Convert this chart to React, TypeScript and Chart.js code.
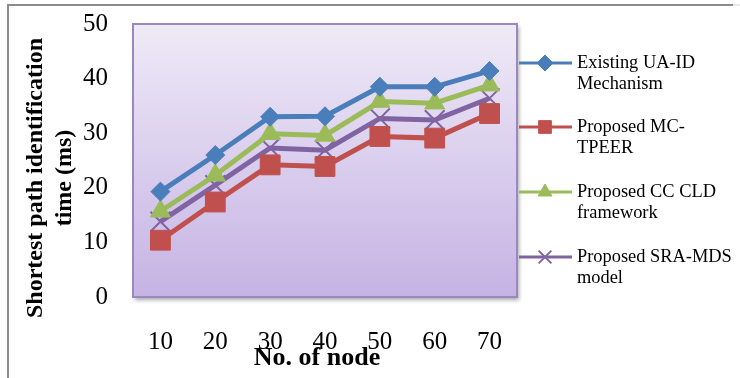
import React, { useEffect, useRef } from "react";
import { Chart, registerables } from "chart.js";
import { drawPoint } from "chart.js/helpers";

Chart.register(...registerables);

const nodeCounts = ["10", "20", "30", "40", "50", "60", "70"];

const existingUaId = [19.3, 26.0, 33.0, 33.1, 38.5, 38.5, 41.4];
const proposedMcTpeer = [10.4, 17.4, 24.2, 23.9, 29.4, 29.1, 33.6];
const proposedCcCld = [15.7, 22.3, 29.9, 29.6, 35.8, 35.5, 38.8];
const proposedSraMds = [13.8, 20.5, 27.3, 26.9, 32.7, 32.4, 36.4];

const seriesNames = [
  ["Existing UA-ID", "Mechanism"],
  ["Proposed MC-", "TPEER"],
  ["Proposed CC CLD", "framework"],
  ["Proposed SRA-MDS", "model"],
];

const yTicks = [0, 10, 20, 30, 40, 50];

const xTitle = "No. of node";
const yTitle = ["Shortest path identification", "time (ms)"];

const SERIF = "'Liberation Serif', 'Times New Roman', serif";

const legendMarkerRadius = [8, 9, 8, 9];

const decorPlugin = {
  id: "decor",
  beforeDraw(chart: any) {
    const { ctx, chartArea } = chart;
    const { left, top, right, bottom } = chartArea;
    ctx.save();
    ctx.fillStyle = "#ffffff";
    ctx.fillRect(0, 0, chart.width, chart.height);

    // outer frame
    ctx.strokeStyle = "#8c8c8c";
    ctx.lineWidth = 2;
    ctx.beginPath();
    ctx.moveTo(8, chart.height + 2);
    ctx.lineTo(8, 5);
    ctx.lineTo(733, 5);
    ctx.stroke();
    ctx.strokeStyle = "#d0d0d0";
    ctx.lineWidth = 1;
    ctx.beginPath();
    ctx.moveTo(733, 5);
    ctx.lineTo(740, 5);
    ctx.stroke();

    // plot area with shadow and gradient
    ctx.shadowColor = "rgba(0,0,0,0.35)";
    ctx.shadowBlur = 4;
    ctx.shadowOffsetX = 2;
    ctx.shadowOffsetY = 3;
    const grad = ctx.createLinearGradient(0, top, 0, bottom);
    grad.addColorStop(0, "#efeaf7");
    grad.addColorStop(1, "#c5b3e4");
    ctx.fillStyle = grad;
    ctx.fillRect(left, top, right - left, bottom - top);
    ctx.shadowColor = "transparent";
    ctx.strokeStyle = "#9a88c2";
    ctx.lineWidth = 2;
    ctx.strokeRect(left, top, right - left, bottom - top);
    ctx.restore();
  },
  afterDraw(chart: any) {
    const { ctx, chartArea } = chart;
    ctx.save();
    ctx.fillStyle = "#000000";

    // axis titles
    ctx.font = `bold 26px ${SERIF}`;
    ctx.textAlign = "center";
    ctx.textBaseline = "middle";
    ctx.fillText(xTitle, 317, 358);

    ctx.save();
    ctx.translate(36, 178);
    ctx.rotate(-Math.PI / 2);
    ctx.font = `bold 24px ${SERIF}`;
    ctx.fillText(yTitle[0], 0, 0);
    ctx.fillText(yTitle[1], 0, 29);
    ctx.restore();

    // legend
    const legendTop = [63, 127, 192, 257];
    chart.data.datasets.forEach((ds: any, i: number) => {
      const y = legendTop[i];
      ctx.strokeStyle = ds.borderColor;
      ctx.lineWidth = 3;
      ctx.beginPath();
      ctx.moveTo(chartArea.right + 2, y);
      ctx.lineTo(572, y);
      ctx.stroke();
      ctx.fillStyle = ds.borderColor;
      ctx.strokeStyle = ds.borderColor;
      ctx.lineWidth = ds.pointStyle === "crossRot" ? 2 : 1;
      drawPoint(
        ctx,
        {
          pointStyle: ds.pointStyle,
          radius: legendMarkerRadius[i],
          rotation: 0,
          borderWidth: ds.pointStyle === "crossRot" ? 2 : 1,
        },
        545,
        y
      );
      ctx.fillStyle = "#000000";
      ctx.font = `18.4px ${SERIF}`;
      ctx.textAlign = "left";
      ctx.textBaseline = "middle";
      seriesNames[i].forEach((line, k) => {
        ctx.fillText(line, 577, y + k * 21);
      });
    });
    ctx.restore();
  },
};

function makeDataset(label: string, data: number[], color: string, pointStyle: string, radius: number) {
  return {
    label,
    data,
    borderColor: color,
    backgroundColor: color,
    pointBackgroundColor: color,
    pointBorderColor: color,
    pointBorderWidth: pointStyle === "crossRot" ? 2 : 1,
    borderWidth: 5,
    pointStyle,
    pointRadius: radius,
    tension: 0,
    fill: false,
  };
}

export default function App() {
  const canvasRef = useRef<HTMLCanvasElement | null>(null);

  useEffect(() => {
    const canvas = canvasRef.current;
    if (!canvas) return;
    const chart = new Chart(canvas, {
      type: "line",
      data: {
        labels: nodeCounts,
        datasets: [
          makeDataset("Existing UA-ID Mechanism", existingUaId, "#4a7ebb", "rectRot", 9.5),
          makeDataset("Proposed MC-TPEER", proposedMcTpeer, "#c0504d", "rect", 14),
          makeDataset("Proposed CC CLD framework", proposedCcCld, "#9bbb59", "triangle", 11.5),
          makeDataset("Proposed SRA-MDS model", proposedSraMds, "#8064a2", "crossRot", 14),
        ] as any,
      },
      options: {
        responsive: false,
        animation: false,
        devicePixelRatio: 1,
        layout: { padding: { left: 0, top: 24, right: 223, bottom: 0 } },
        plugins: {
          legend: { display: false },
          tooltip: { enabled: false },
          title: { display: false },
        },
        scales: {
          x: {
            type: "category",
            offset: true,
            grid: { display: false, drawTicks: false },
            border: { display: false },
            ticks: {
              color: "#000000",
              padding: 30,
              font: { family: SERIF, size: 25 },
              maxRotation: 0,
            },
            afterFit(scale: any) {
              scale.height = 81;
            },
          },
          y: {
            min: 0,
            max: 50,
            grid: { display: false, drawTicks: false },
            border: { display: false },
            afterBuildTicks(scale: any) {
              scale.ticks = yTicks.map((v) => ({ value: v }));
            },
            ticks: {
              color: "#000000",
              padding: 25,
              font: { family: SERIF, size: 25 },
            },
            afterFit(scale: any) {
              scale.width = 133;
              scale.paddingTop = 0;
              scale.paddingBottom = 0;
            },
          },
        },
      },
      plugins: [decorPlugin],
    });
    return () => chart.destroy();
  }, []);

  return (
    <div style={{ position: "fixed", left: 0, top: 0, width: 740, height: 378, background: "#fff" }}>
      <canvas ref={canvasRef} width={740} height={378} style={{ display: "block" }} />
    </div>
  );
}
